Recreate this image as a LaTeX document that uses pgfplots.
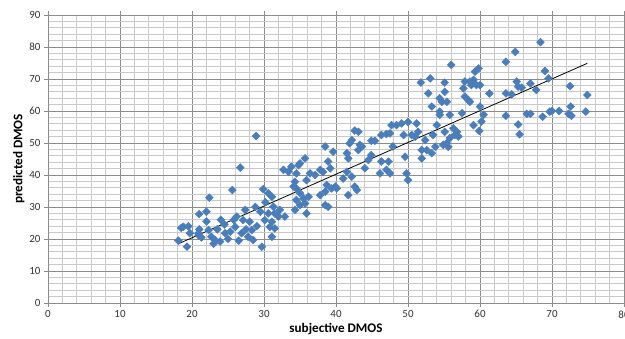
\documentclass[border=0pt]{standalone}
\usepackage{pgfplots}
\pgfplotsset{compat=1.18}
\usepackage{fontspec}
\setmainfont{Carlito}
\definecolor{ptblue}{HTML}{4A7EBB}
\definecolor{majgrid}{HTML}{8C8C8C}
\definecolor{mingrid}{HTML}{C9C9C9}
\begin{document}
\begin{tikzpicture}
\begin{axis}[name=ax, scale only axis, width=576bp, height=288bp,
  xmin=0, xmax=80, ymin=0, ymax=90,
  xtick={0,10,...,80}, ytick={0,10,...,90},
  minor x tick num=4, minor y tick num=4,
  grid=both,
  major grid style={majgrid, line width=0.8bp},
  minor grid style={mingrid, line width=1.2bp},
  axis line style={majgrid, line width=0.8bp},
  tick style={majgrid, line width=0.8bp},
  tick align=outside, major tick length=4bp, minor tick length=0pt,
  tick label style={font=\fontsize{11}{13}\selectfont, text=black!80},
  /pgf/number format/assume math mode=true,
  xlabel={subjective DMOS}, ylabel={predicted DMOS},
  label style={font=\fontsize{13.2}{15}\selectfont\bfseries},
  xlabel style={yshift=2bp},
  ylabel style={yshift=-2bp},
]
\addplot[only marks, mark=square*, mark size=2.8bp,
  mark options={rotate=45, fill=ptblue, draw=ptblue}] table {
x y
26.7 42.3
25.6 35.3
22.4 32.9
29.9 35.6
21.0 27.8
22.0 28.5
18.1 19.5
18.8 23.8
19.5 24.0
19.3 17.6
20.9 21.8
21.3 20.5
22.7 20.7
22.3 22.8
23.2 19.7
23.9 19.2
24.6 21.8
25.3 22.3
26.0 23.8
26.2 27.0
27.4 29.1
27.1 25.9
28.0 25.4
28.3 22.8
28.5 19.7
27.8 20.7
29.7 17.6
26.9 21.8
30.1 25.9
30.6 28.0
30.6 34.3
31.1 33.2
31.3 30.1
31.5 28.0
31.1 25.4
30.8 23.8
31.1 20.7
32.0 27.0
32.2 29.1
32.9 27.0
31.5 23.3
32.7 41.6
33.4 41.0
28.9 52.2
19.7 21.8
20.9 21.2
18.5 23.5
24.5 24.5
23.5 23.0
25.0 20.0
26.5 19.5
29.0 24.0
29.5 28.5
24.0 26.0
27.5 23.0
22.0 25.5
21.0 23.0
25.8 26.0
28.8 30.0
30.2 31.5
23.0 18.5
42.6 53.9
43.1 53.5
42.2 50.9
41.9 49.9
43.3 49.4
43.1 47.8
43.6 48.9
38.5 48.9
39.6 47.3
41.5 46.8
41.7 45.2
44.9 50.7
45.4 50.7
46.3 52.5
47.0 52.8
47.5 53.0
47.7 55.6
48.4 55.6
44.9 46.2
44.5 44.7
44.0 42.1
46.3 44.2
47.3 44.2
46.1 40.5
47.0 41.6
47.5 40.5
41.5 41.0
41.0 38.9
42.2 39.5
42.6 36.4
42.9 35.3
41.7 33.7
39.9 36.4
40.1 35.8
39.4 35.8
38.7 36.9
38.5 34.8
37.8 33.7
38.5 30.6
38.9 30.1
39.2 42.1
38.9 44.2
38.2 41.0
37.8 41.6
37.1 40.0
36.4 40.5
35.9 38.4
35.7 45.2
35.0 43.6
34.8 43.1
34.5 40.5
34.3 37.9
34.1 36.4
33.8 42.6
34.5 35.8
35.0 34.3
35.5 32.7
34.5 32.2
35.0 30.6
35.7 31.1
36.2 33.2
35.9 28.0
34.3 29.1
47.9 48.9
56.0 74.4
53.1 70.2
51.8 68.9
55.1 68.9
52.8 65.5
55.1 66.0
54.4 64.0
55.4 62.9
54.7 62.9
53.3 61.4
54.4 59.8
54.4 58.8
55.8 58.8
57.7 67.1
57.9 69.2
58.6 69.2
59.1 69.7
58.8 68.1
59.5 68.1
60.0 68.1
59.3 72.3
59.8 73.3
57.9 64.5
58.4 63.4
58.6 62.9
61.3 65.5
60.0 61.4
60.5 58.8
60.2 56.7
59.1 55.6
59.9 53.8
57.5 59.3
49.1 56.1
50.0 56.5
51.2 56.1
51.4 53.5
49.4 52.5
50.5 52.5
51.0 52.0
52.4 50.9
53.5 52.5
54.0 55.6
55.1 53.5
56.3 54.6
56.8 53.5
56.5 52.5
57.0 52.0
55.8 51.5
55.4 49.9
55.6 48.8
54.9 49.4
53.8 48.8
53.3 46.8
51.9 47.8
52.6 47.8
51.9 45.2
49.6 45.7
49.8 40.5
50.0 38.4
68.4 81.5
64.9 78.5
63.6 75.4
69.0 72.5
69.5 70.2
65.1 69.2
65.3 67.6
65.8 67.3
67.0 68.6
67.8 66.6
63.6 65.5
64.4 65.2
72.5 67.8
74.9 65.0
63.6 58.5
66.5 59.1
67.0 59.1
68.7 58.2
69.7 59.8
70.0 60.0
71.0 60.0
72.3 59.1
72.7 58.5
72.6 61.4
74.7 59.8
65.3 55.8
65.5 52.7
};
\addplot[black, line width=0.8bp] coordinates {(18.1,18.5) (74.9,74.9)};
\end{axis}
\pgfresetboundingbox
\path[use as bounding box] ([xshift=-48bp,yshift=-35bp]ax.south west) rectangle ([xshift=1bp,yshift=15bp]ax.north east);
\end{tikzpicture}
\end{document}
